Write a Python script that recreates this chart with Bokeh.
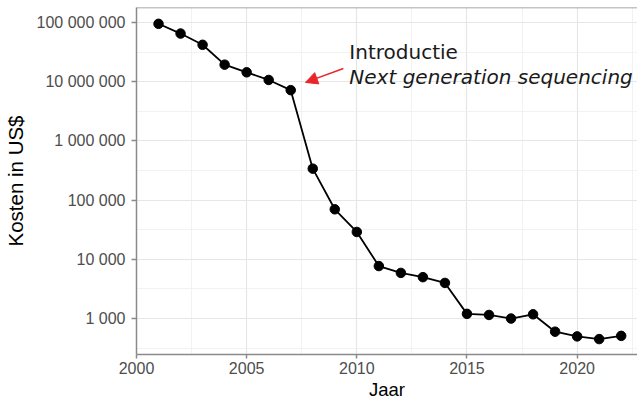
from bokeh.plotting import figure
from bokeh.models import (FixedTicker, CustomJSTickFormatter, Range1d, Label, Arrow,
                          NormalHead, ColumnDataSource, Span)
from bokeh.embed import file_html
from bokeh.resources import INLINE

# ---- data ----
years = [2001, 2002, 2003, 2004, 2005, 2006, 2007, 2008, 2009, 2010, 2011,
         2012, 2013, 2014, 2015, 2016, 2017, 2018, 2019, 2020, 2021, 2022]
costs = [95e6, 65e6, 42e6, 19.4e6, 14.4e6, 10.7e6, 7.2e6, 340e3, 70e3, 29e3, 7.7e3,
         5.9e3, 5.0e3, 4.0e3, 1.2e3, 1.15e3, 1.0e3, 1.18e3, 600, 500, 450, 510]
x_ticks = [2000, 2005, 2010, 2015, 2020]
x_minor = [2002.5, 2007.5, 2012.5, 2017.5, 2022.5]
y_ticks = [1e3, 1e4, 1e5, 1e6, 1e7, 1e8]
y_minor = [10 ** 2.5, 10 ** 3.5, 10 ** 4.5, 10 ** 5.5, 10 ** 6.5, 10 ** 7.5]
x_label = "Jaar"
y_label = "Kosten in US$"
note_line1 = "Introductie"
note_line2 = "Next generation sequencing"

# annotation placement (data coordinates)
arrow_from = (2009.39, 10 ** 7.224)
arrow_to = (2007.67, 10 ** 6.988)
note_x = 2009.66
note_y1 = 10 ** 7.494
note_y2 = 10 ** 7.072

Y_MIN, Y_MAX = 10 ** 2.393, 10 ** 8.253
GREY_AX = "#8a8a8a"

p = figure(width=637, height=403, y_axis_type="log",
           x_range=Range1d(2000, 2022.74), y_range=Range1d(Y_MIN, Y_MAX),
           output_backend="svg", toolbar_location=None,
           min_border_left=133, min_border_right=0, min_border_top=7, min_border_bottom=49)
p.background_fill_color = "white"
p.border_fill_color = "white"
p.outline_line_color = None

src = ColumnDataSource(dict(year=years, cost=costs))
p.line("year", "cost", source=src, line_color="black", line_width=1.8)
p.scatter("year", "cost", source=src, size=9.5, fill_color="black", line_color="black")

# top border of the panel
p.add_layout(Span(location=Y_MAX, dimension="width", line_color=GREY_AX, line_width=1.5))

# axes
p.xaxis.ticker = FixedTicker(ticks=x_ticks, minor_ticks=x_minor)
p.yaxis.ticker = FixedTicker(ticks=y_ticks, minor_ticks=y_minor)
p.yaxis.formatter = CustomJSTickFormatter(
    code=r'return String(Math.round(tick)).replace(/\B(?=(\d{3})+(?!\d))/g, " ");')

for ax in (p.xaxis, p.yaxis):
    ax.axis_line_color = GREY_AX
    ax.axis_line_width = 1.5
    ax.major_tick_line_color = GREY_AX
    ax.major_tick_line_width = 1.5
    ax.major_tick_in = 0
    ax.minor_tick_line_color = None
    ax.major_label_text_font = "Liberation Sans"
    ax.major_label_text_font_size = "16px"
    ax.major_label_text_color = "#4d4d4d"
    ax.axis_label_text_font = "Liberation Sans"
    ax.axis_label_text_font_style = "normal"
    ax.axis_label_text_color = "black"

p.xaxis.axis_label = x_label
p.yaxis.axis_label = y_label
p.xaxis.axis_label_text_font_size = "18.5px"
p.yaxis.axis_label_text_font_size = "20.5px"
p.xaxis.major_tick_out = 4
p.yaxis.major_tick_out = 5
p.xaxis.major_label_standoff = 3
p.xaxis.axis_label_standoff = 2
p.yaxis.major_label_standoff = 6
p.yaxis.axis_label_standoff = 7

# grid
for g in (p.xgrid, p.ygrid):
    g.grid_line_color = "#e6e6e6"
    g.grid_line_width = 1.2
    g.minor_grid_line_color = "#ececec"
    g.minor_grid_line_width = 0.7

# annotation
p.add_layout(Arrow(x_start=arrow_from[0], y_start=arrow_from[1],
                   x_end=arrow_to[0], y_end=arrow_to[1],
                   line_color="#e8262a", line_width=1.5,
                   end=NormalHead(size=12, fill_color="#e8262a", line_color="#e8262a")))
p.add_layout(Label(x=note_x, y=note_y1, text=note_line1, text_font="DejaVu Sans",
                   text_font_size="20px", text_color="#1a1a1a", text_baseline="alphabetic"))
p.add_layout(Label(x=note_x, y=note_y2, text=note_line2, text_font="DejaVu Sans",
                   text_font_size="20px", text_font_style="italic", text_color="#1a1a1a",
                   text_baseline="alphabetic"))

open("out.html", "w").write(file_html(p, INLINE))
